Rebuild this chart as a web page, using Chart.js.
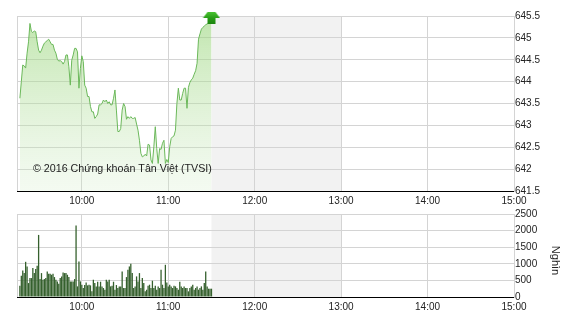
<!DOCTYPE html>
<html><head><meta charset="utf-8">
<script src="https://cdn.jsdelivr.net/npm/chart.js@4/dist/chart.umd.min.js"></script>
<style>
html,body{margin:0;padding:0;background:#fff;width:570px;height:320px;overflow:hidden}
#c1{position:absolute;left:0;top:0}
#c2{position:absolute;left:0;top:205px}
</style></head><body>
<canvas id="c1" width="570" height="215"></canvas>
<canvas id="c2" width="570" height="115"></canvas>
<script>
// ---- data ----
const times = [
'9:17','9:18','9:19','9:20','9:21','9:22','9:23','9:24','9:25','9:26','9:27','9:28','9:29','9:30','9:31','9:32','9:33','9:34','9:35','9:36','9:37','9:38','9:39','9:40','9:41','9:42','9:43','9:44','9:45','9:46','9:47','9:48','9:49','9:50','9:51','9:52','9:53','9:54','9:55','9:56','9:57','9:58','9:59',
'10:00','10:01','10:02','10:03','10:04','10:05','10:06','10:07','10:08','10:09','10:10','10:11','10:12','10:13','10:14','10:15','10:16','10:17','10:18','10:19','10:20','10:21','10:22','10:23','10:24','10:25','10:26','10:27','10:28','10:29','10:30','10:31','10:32','10:33','10:34','10:35','10:36','10:37','10:38','10:39','10:40','10:41','10:42','10:43','10:44','10:45','10:46','10:47','10:48','10:49','10:50','10:51','10:52','10:53','10:54','10:55','10:56','10:57','10:58','10:59',
'11:00','11:01','11:02','11:03','11:04','11:05','11:06','11:07','11:08','11:09','11:10','11:11','11:12','11:13','11:14','11:15','11:16','11:17','11:18','11:19','11:20','11:21','11:22','11:23','11:24','11:25','11:26','11:27','11:28','11:29','11:30'
];
const indexValues = [
643.62,644.00,644.38,644.36,644.31,644.65,644.91,645.33,645.15,645.12,645.16,645.14,644.91,644.72,644.66,644.72,644.81,644.88,644.91,644.94,
644.97,644.91,644.85,644.85,644.72,644.65,644.51,644.47,644.48,644.46,644.40,644.46,644.61,644.61,644.34,643.92,644.49,644.61,644.76,644.76,
644.68,643.85,644.30,644.59,644.46,643.92,643.85,643.66,643.66,643.43,643.31,643.31,643.16,643.20,643.26,643.47,643.47,643.50,643.58,643.54,
643.58,643.50,643.54,643.47,643.47,643.62,643.81,643.35,642.86,642.86,642.93,643.35,643.50,643.43,643.14,643.20,643.16,643.20,643.16,643.16,
643.18,643.03,642.89,642.66,642.36,642.28,642.30,642.34,642.30,642.57,642.55,642.21,642.13,642.51,642.97,642.47,642.13,642.47,642.45,642.59,
642.66,642.13,642.22,642.15,642.51,642.70,642.74,642.76,642.89,643.50,643.85,643.58,643.58,643.73,643.85,643.85,643.39,643.87,643.98,644.04,
644.08,644.17,644.25,644.42,644.97,645.09,645.20,645.24,645.27,645.30,645.32,645.33,645.33,645.35
];
const volumeValues = [
340,640,800,720,1060,920,420,570,570,870,720,840,940,1870,540,720,520,540,570,770,
700,700,670,700,600,520,470,400,570,620,740,720,720,670,600,470,470,470,540,2150,
320,1070,470,370,
270,360,440,350,370,350,170,520,420,320,460,320,460,320,270,220,520,470,520,320,
340,460,220,360,270,320,320,770,270,270,600,820,920,1000,720,270,320,620,470,720,
270,570,420,170,220,
340,370,270,490,270,340,220,320,270,820,370,270,970,440,320,370,320,270,340,320,
270,220,460,320,270,320,270,270,170,270,320,370,220,270,320,220,270,320,220,420,
770,320,250,250,250
];
const xTickLabels = ['10:00','11:00','12:00','13:00','14:00','15:00'];
const sessionStart = '9:15', sessionEnd = '15:00';
const breakStart = '11:30', breakEnd = '13:00';
const indexTicks = [641.5,642,642.5,643,643.5,644,644.5,645,645.5];
const volumeTicks = [0,500,1000,1500,2000,2500];
const copyrightText = '© 2016 Chứng khoán Tân Việt (TVSI)';
const volumeUnit = 'Nghìn';

// ---- helpers ----
function toMin(t){ const p = t.split(':').map(Number); return p[0]*60 + p[1]; }
const xMin = toMin(sessionStart), xMax = toMin(sessionEnd);
const xTickVals = [sessionStart].concat(xTickLabels).map(toMin);
const FONT = 'Arial, "Liberation Sans", sans-serif';
Chart.defaults.font.family = FONT;
Chart.defaults.color = '#222';
const GRID = '#d4d4d4';

function xScale(h){
  return {
    type:'linear', min:xMin, max:xMax, offset:false,
    afterBuildTicks(s){ s.ticks = xTickVals.map(v => ({value:v})); },
    afterFit(s){ s.height = h; },
    ticks:{ autoSkip:false, maxRotation:0, padding:4, color:'#222', font:{size:10},
      callback(v){ const i = xTickVals.indexOf(v); return i > 0 ? xTickLabels[i-1] : ''; } },
    grid:{ color:GRID, drawTicks:false, offset:false },
    border:{ color:'#000' }
  };
}
function yScale(min, max, ticks){
  return {
    position:'right', min:min, max:max,
    afterBuildTicks(s){ s.ticks = ticks.map(v => ({value:v})); },
    afterFit(s){ s.width = 56; },
    ticks:{ padding:1, color:'#222', font:{size:10}, callback(v){ return String(v); } },
    grid:{ color:GRID, drawTicks:false },
    border:{ color:GRID }
  };
}
const breakPlugin = {
  id:'lunchBreak',
  beforeDraw(chart){
    const a = chart.chartArea, x = chart.scales.x, ctx = chart.ctx;
    const x0 = x.getPixelForValue(toMin(breakStart)), x1 = x.getPixelForValue(toMin(breakEnd));
    ctx.save(); ctx.fillStyle = '#f2f2f2';
    ctx.fillRect(x0, a.top, x1 - x0, a.bottom - a.top);
    ctx.restore();
  }
};

// arrow marker image
function makeArrow(){
  const c = document.createElement('canvas'); c.width = 18; c.height = 24;
  const g = c.getContext('2d');
  const grad = g.createLinearGradient(0, 8, 0, 20);
  grad.addColorStop(0, '#48c230'); grad.addColorStop(0.5, '#2a9e18'); grad.addColorStop(1, '#1c8510');
  g.fillStyle = grad;
  g.beginPath();
  g.moveTo(5, 8); g.lineTo(13, 8); g.lineTo(17.5, 14); g.lineTo(13, 14); g.lineTo(13, 20);
  g.lineTo(5, 20); g.lineTo(5, 14); g.lineTo(0.5, 14); g.closePath(); g.fill();
  return c;
}
const arrowImg = makeArrow();

const textPlugin = {
  id:'copyright',
  afterDatasetsDraw(chart){
    const a = chart.chartArea, ctx = chart.ctx;
    ctx.save(); ctx.font = '10.7px ' + FONT; ctx.fillStyle = '#222';
    ctx.textBaseline = 'middle'; ctx.textAlign = 'left';
    ctx.fillText(copyrightText, a.left + 16, a.bottom - 22);
    ctx.restore();
  }
};
const unitPlugin = {
  id:'unit',
  afterDraw(chart){
    const a = chart.chartArea, ctx = chart.ctx;
    ctx.save(); ctx.font = '11px ' + FONT; ctx.fillStyle = '#222';
    ctx.translate(chart.width - 14.5, (a.top + a.bottom)/2 + 5);
    ctx.rotate(Math.PI/2);
    ctx.textAlign = 'center'; ctx.textBaseline = 'middle';
    ctx.fillText(volumeUnit, 0, 0);
    ctx.restore();
  }
};

const common = { responsive:false, animation:false, events:[], plugins:{ legend:{display:false}, tooltip:{enabled:false} } };

const lastT = toMin(times[times.length-1]);
new Chart(document.getElementById('c1'), {
  type:'line',
  data:{ datasets:[
    { data:[{x:lastT, y:indexTicks[indexTicks.length-1]}], pointStyle:arrowImg, pointRadius:10, showLine:false, clip:false },
    { data: times.map((t,i) => ({x:toMin(t), y:indexValues[i]})),
      borderColor:'#6bb85a', borderWidth:1, pointRadius:0, tension:0, fill:'start',
      backgroundColor(ctx){
        const a = ctx.chart.chartArea;
        if(!a) return 'rgba(170,220,140,0.5)';
        const g = ctx.chart.ctx.createLinearGradient(0, a.top, 0, a.bottom);
        g.addColorStop(0, 'rgba(150,212,118,0.6)');
        g.addColorStop(1, 'rgba(210,236,200,0.25)');
        return g;
      } }
  ]},
  options: Object.assign({}, common, {
    layout:{ padding:{ left:17, top:16, right:0, bottom:0 } },
    scales:{ x:xScale(24), y:yScale(641.5, 645.5, indexTicks) }
  }),
  plugins:[breakPlugin, textPlugin]
});

new Chart(document.getElementById('c2'), {
  type:'bar',
  data:{ datasets:[
    { data: times.map((t,i) => ({x:toMin(t), y:volumeValues[i]})),
      backgroundColor:'#35602d', borderWidth:0, barPercentage:0.9, categoryPercentage:1 }
  ]},
  options: Object.assign({}, common, {
    layout:{ padding:{ left:17, top:9, right:0, bottom:0 } },
    scales:{ x:xScale(23), y:yScale(0, 2500, volumeTicks) }
  }),
  plugins:[breakPlugin, unitPlugin]
});
</script>
</body></html>
